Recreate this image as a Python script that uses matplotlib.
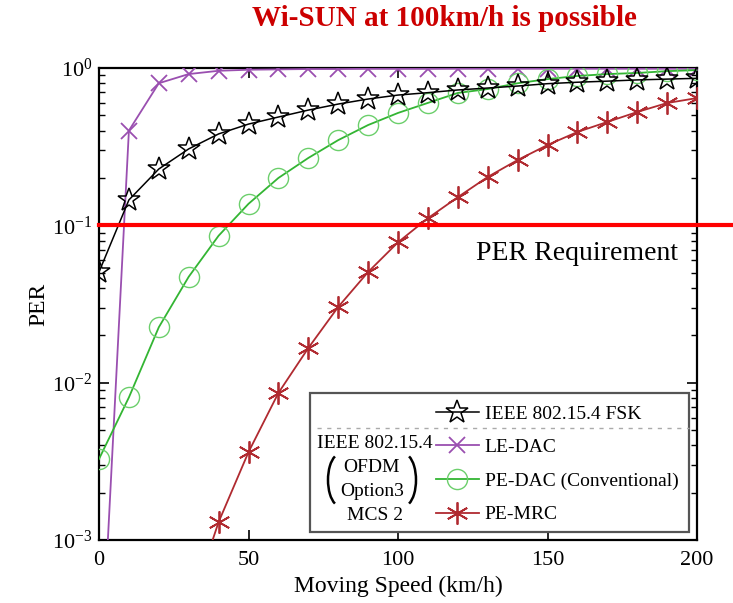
import numpy as np
import matplotlib
matplotlib.use("Agg")
import matplotlib.pyplot as plt
from matplotlib.patches import Rectangle, Arc
from matplotlib.lines import Line2D

plt.rcParams['font.family'] = ['Liberation Serif', 'DejaVu Serif']
plt.rcParams['mathtext.fontset'] = 'stix'

speed = [0, 10, 20, 30, 40, 50, 60, 70, 80, 90, 100, 110, 120, 130, 140, 150, 160, 170, 180, 190, 200]
fsk = [0.0505, 0.145, 0.228, 0.306, 0.381, 0.44, 0.488, 0.54, 0.59, 0.635, 0.673, 0.697, 0.725, 0.746, 0.768, 0.795, 0.812, 0.825, 0.84, 0.85, 0.86]
le_dac = [8e-5, 0.40, 0.80, 0.915, 0.96, 0.975, 0.98, 0.985, 0.985, 0.988, 0.988, 0.988, 0.99, 0.99, 0.99, 0.99, 0.99, 0.99, 0.99, 0.99, 0.99]
pe_dac = [0.00327, 0.00806, 0.0225, 0.0471, 0.0859, 0.137, 0.20, 0.268, 0.348, 0.434, 0.518, 0.60, 0.694, 0.735, 0.80, 0.85, 0.89, 0.915, 0.93, 0.955, 0.97]
mrc_speed = [30, 40, 50, 60, 70, 80, 90, 100, 110, 120, 130, 140, 150, 160, 170, 180, 190, 200]
pe_mrc = [3.5e-4, 0.0013, 0.00362, 0.0086, 0.0166, 0.0303, 0.0505, 0.078, 0.111, 0.151, 0.203, 0.26, 0.324, 0.392, 0.454, 0.525, 0.599, 0.644]
per_req = 0.1

labels = ['IEEE 802.15.4 FSK', 'LE-DAC', 'PE-DAC (Conventional)', 'PE-MRC']

W, H = 733, 603
fig = plt.figure(figsize=(W/100, H/100), dpi=100)
ax = fig.add_axes([99/W, 1-540/H, (697-99)/W, (540-68)/H])

c_purple = '#9a4fb0'
c_green = '#33b533'
c_green_m = '#6ccf6c'
c_red = '#b02a30'

h1, = ax.plot(speed, fsk, color='black', lw=1.1, marker='*', ms=17, mfc='none', mec='black', mew=1.1, zorder=4)
h2, = ax.plot(speed, le_dac, color=c_purple, lw=1.3, marker='x', ms=12, mew=1.3, zorder=3)
h3, = ax.plot(speed, pe_dac, color=c_green, lw=1.3, marker='o', ms=14.5, mfc='none', mec=c_green_m, mew=1.0, zorder=3)
h4, = ax.plot(mrc_speed, pe_mrc, color=c_red, lw=1.3, marker=(6, 2, 0), ms=16, mec=c_red, mew=1.3, zorder=3)

ax.plot([0, 1.06], [per_req, per_req], transform=ax.get_yaxis_transform(), color='#ff0000', lw=3, clip_on=False, zorder=5)

ax.set_yscale('log')
ax.set_xlim(0, 200)
ax.set_ylim(1e-3, 1)
ax.set_xticks([0, 50, 100, 150, 200])
ax.tick_params(which='both', direction='in', top=True, right=True, labelsize=16)
ax.tick_params(axis='x', pad=8)
ax.tick_params(axis='y', pad=5)
ax.tick_params(which='major', length=7, width=1.2)
ax.tick_params(which='minor', length=4, width=1.0)
for s in ax.spines.values():
    s.set_linewidth(1.6)
ax.set_xlabel('Moving Speed (km/h)', fontsize=17, labelpad=4)
ax.set_ylabel('PER', fontsize=17, labelpad=2)

fig.text(444/W, 1-19/H, 'Wi-SUN at 100km/h is possible', color='#cc0000', fontsize=21, fontweight='bold', ha='center', va='center')
fig.text(577/W, 1-253/H, 'PER Requirement', fontsize=20, ha='center', va='center')

# legend box
box = Rectangle((310/W, 1-532/H), (689-310)/W, (532-393)/H, transform=fig.transFigure, fill=True, facecolor='white', edgecolor='#555555', lw=1.6, zorder=10)
fig.add_artist(box)
fig.add_artist(Line2D([317/W, 689/W], [1-428/H, 1-428/H], transform=fig.transFigure, color='#aaaaaa', lw=1.0, ls=(0, (3, 4)), zorder=11))
fig.text(375/W, 1-443/H, 'IEEE 802.15.4', fontsize=14, ha='center', va='center', zorder=11)
fig.text(372/W, 1-468/H, 'OFDM', fontsize=14, ha='center', va='center', zorder=11)
fig.text(372/W, 1-492/H, 'Option3', fontsize=14, ha='center', va='center', zorder=11)
fig.text(375/W, 1-516/H, 'MCS 2', fontsize=14, ha='center', va='center', zorder=11)
# thin stretched parentheses
fig.add_artist(Arc((340/W, 1-480/H), 24/W, 52/H, theta1=100, theta2=260, transform=fig.transFigure, color='black', lw=1.8, zorder=11))
fig.add_artist(Arc((404/W, 1-480/H), 24/W, 52/H, theta1=-80, theta2=80, transform=fig.transFigure, color='black', lw=1.8, zorder=11))

leg = fig.legend([h1, h2, h3, h4], labels, loc='upper left', bbox_to_anchor=(436/W, 1-405/H),
                 frameon=False, fontsize=14, handlelength=2.2, handletextpad=0.3, labelspacing=0.82,
                 borderpad=0, borderaxespad=0)
leg.set_zorder(12)

fig.savefig('out.png', dpi=100)
